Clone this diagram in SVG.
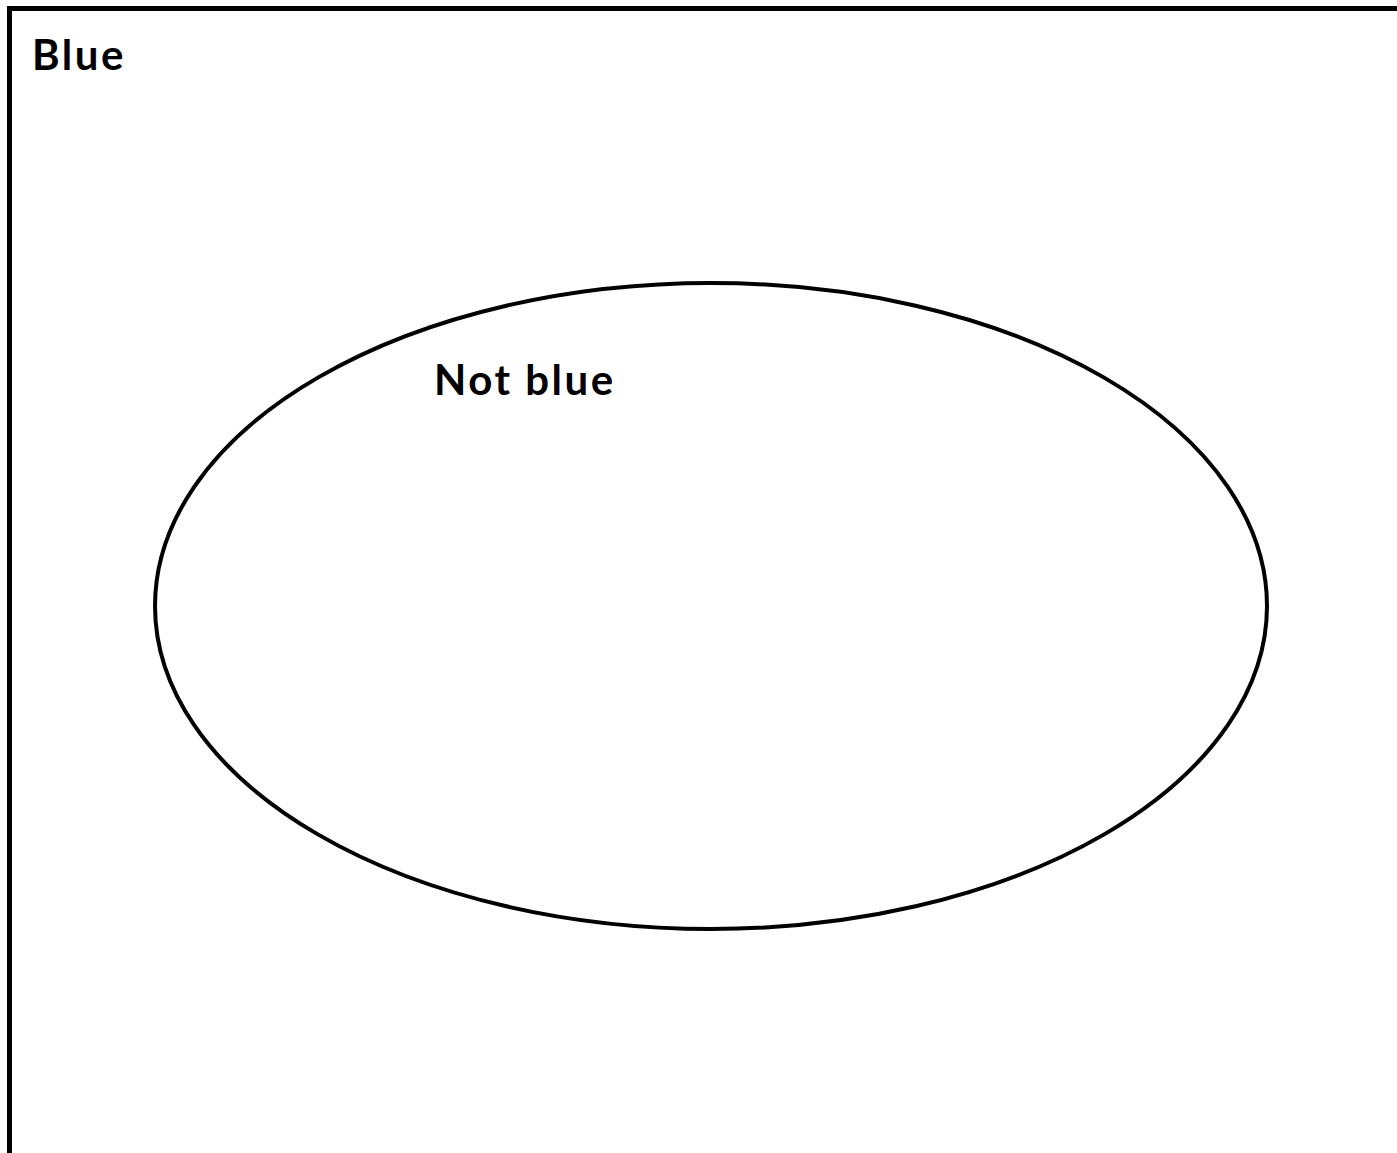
<svg xmlns="http://www.w3.org/2000/svg" width="1397" height="1153" viewBox="0 0 1397 1153">
<style>
.lbl{font-family:"Lato","Noto Sans",sans-serif;font-weight:bold;font-size:42px;letter-spacing:2.5px;fill:#000}
.ln{fill:none;stroke:#000}
</style>
<rect width="1397" height="1153" fill="#fff"/>
<g id="blue">
<rect class="ln" x="9.5" y="8.5" width="1500" height="1300" stroke-width="5"/>
<text class="lbl" x="32" y="70">Blue</text>
</g>
<g id="not-blue">
<ellipse class="ln" cx="711" cy="606" rx="556" ry="323" stroke-width="4"/>
<text class="lbl" x="434" y="395">Not blue</text>
</g>
<g id="connectors"/>
</svg>
